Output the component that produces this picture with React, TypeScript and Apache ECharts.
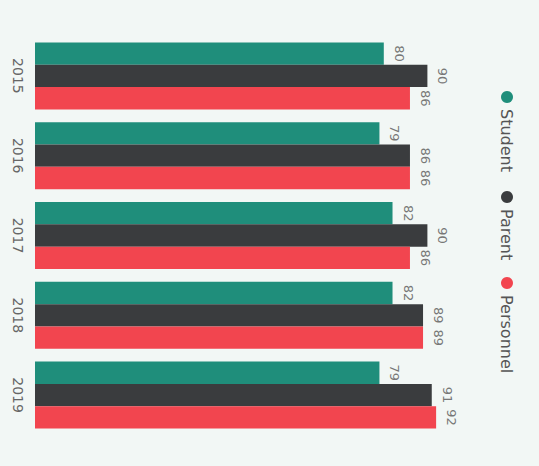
import React, { useEffect, useRef } from "react";
import * as echarts from "echarts";

const years = ["2015", "2016", "2017", "2018", "2019"];
const student = [80, 79, 82, 82, 79];
const parent = [90, 86, 90, 89, 91];
const personnel = [86, 86, 86, 89, 92];
const seriesNames = ["Student", "Parent", "Personnel"];
const seriesColors = ["#1f8e7b", "#3a3c3e", "#f2454f"];

const FONT = "DejaVu Sans";

export default function App() {
  const ref = useRef<HTMLDivElement>(null);

  useEffect(() => {
    document.body.style.margin = "0";
    const chart = echarts.init(ref.current!, undefined, { renderer: "svg" });
    const values = [student, parent, personnel];
    const legendY = [97, 197, 283];
    const legendGraphics: any[] = [];
    seriesNames.forEach((name, i) => {
      legendGraphics.push({
        type: "circle",
        shape: { cx: 507, cy: legendY[i], r: 6 },
        style: { fill: seriesColors[i] },
      });
      legendGraphics.push({
        type: "text",
        x: 506,
        y: legendY[i] + 12,
        rotation: -Math.PI / 2,
        style: {
          text: name,
          fontSize: 16,
          fontFamily: FONT,
          fill: "#555",
          align: "left",
          verticalAlign: "middle",
        },
      });
    });

    chart.setOption({
      animation: false,
      backgroundColor: "#f2f7f5",
      grid: { left: 35, right: 68, top: 36, bottom: 31 },
      xAxis: { type: "value", min: 0, max: 100, show: false },
      yAxis: {
        type: "category",
        data: years,
        inverse: true,
        axisLine: { show: false },
        axisTick: { show: false },
        axisLabel: {
          rotate: -90,
          margin: 10,
          align: "center",
          verticalAlign: "top",
          fontSize: 14,
          fontFamily: FONT,
          color: "#666",
        },
      },
      graphic: legendGraphics,
      series: seriesNames.map((name, i) => ({
        name,
        type: "bar",
        data: values[i],
        barGap: "0%",
        barCategoryGap: "16%",
        itemStyle: { color: seriesColors[i] },
        label: {
          show: true,
          position: "right",
          distance: 9,
          rotate: -90,
          align: "center",
          verticalAlign: "bottom",
          fontSize: 13,
          fontFamily: FONT,
          color: "#777",
        },
      })),
    });
    return () => chart.dispose();
  }, []);

  return (
    <div
      ref={ref}
      style={{ position: "absolute", left: 0, top: 0, width: 539, height: 466 }}
    />
  );
}
